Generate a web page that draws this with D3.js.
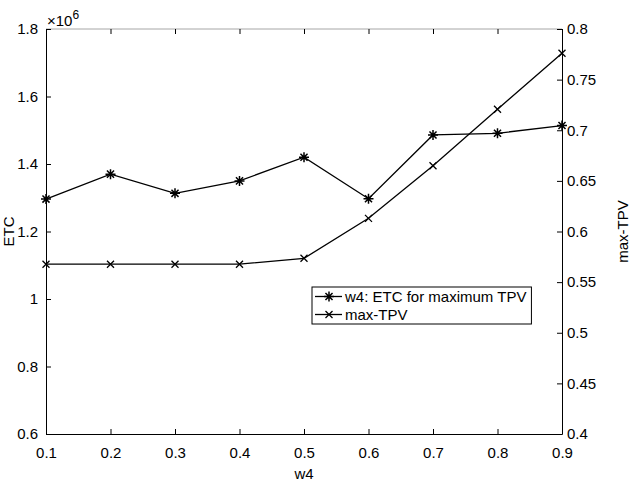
<!DOCTYPE html>
<html>
<head>
<meta charset="utf-8">
<script src="https://cdn.jsdelivr.net/npm/d3@7/dist/d3.min.js"></script>
<style>
  body { margin: 0; background: #fff; }
  svg { display: block; font-family: Arial, "Liberation Sans", Helvetica, sans-serif; }
</style>
</head>
<body>
<div id="chart"></div>
<script>
// values
var w4 = [0.1, 0.2, 0.3, 0.4, 0.5, 0.6, 0.7, 0.8, 0.9]
var etc = [1.296e6, 1.370e6, 1.313e6, 1.350e6, 1.420e6, 1.297e6, 1.486e6, 1.491e6, 1.514e6]
var maxTPV = [0.5677, 0.5677, 0.5677, 0.5677, 0.5735, 0.613, 0.665, 0.7207, 0.776]

var xTicks = [0.1, 0.2, 0.3, 0.4, 0.5, 0.6, 0.7, 0.8, 0.9]
var leftTicks = [0.6, 0.8, 1, 1.2, 1.4, 1.6, 1.8]
var rightTicks = [0.4, 0.45, 0.5, 0.55, 0.6, 0.65, 0.7, 0.75, 0.8]
var legendLabels = ['w4: ETC for maximum TPV', 'max-TPV']

var width = 637,
    height = 484,
    margins = {top: 29, right: 75, bottom: 50, left: 46},
    innerW = width - margins.left - margins.right,
    innerH = height - margins.top - margins.bottom,
    fontSize = 15,
    tickLen = 5

var svg = d3.select('#chart').append('svg')
    .attr('width', width)
    .attr('height', height)

var g = svg.append('g')
    .attr('transform', 'translate(' + margins.left + ',' + margins.top + ')')

var x = d3.scaleLinear().domain([0.1, 0.9]).range([0, innerW])
var yL = d3.scaleLinear().domain([0.6, 1.8]).range([innerH, 0])   // in units of 1e6
var yR = d3.scaleLinear().domain([0.4, 0.8]).range([innerH, 0])

// top box edge is grey in matlab's yyaxis
g.append('line')
    .attr('x1', 0).attr('x2', innerW)
    .attr('y1', 0).attr('y2', 0)
    .attr('stroke', '#a6a6a6')
    .attr('stroke-width', 1)

function styleAxis(sel) {
    sel.selectAll('.domain').attr('stroke', '#000').attr('stroke-width', 1)
    sel.selectAll('.tick line').attr('stroke', '#000')
    sel.selectAll('.tick text')
        .attr('fill', '#000')
        .style('font-size', fontSize + 'px')
}

var fmt = function(d) { return String(+d.toFixed(2)) }

// bottom axis, ticks pointing in
var xAxis = g.append('g')
    .attr('transform', 'translate(0,' + innerH + ')')
    .call(d3.axisBottom(x).tickValues(xTicks).tickFormat(fmt).tickSizeInner(-tickLen).tickSizeOuter(0).tickPadding(13))
styleAxis(xAxis)

// top ticks only (no labels)
var xTop = g.append('g')
    .call(d3.axisTop(x).tickValues(xTicks).tickFormat('').tickSizeInner(-tickLen).tickSizeOuter(0))
xTop.select('.domain').remove()
styleAxis(xTop)

var left = g.append('g')
    .call(d3.axisLeft(yL).tickValues(leftTicks).tickFormat(fmt).tickSizeInner(-tickLen).tickSizeOuter(0).tickPadding(8))
styleAxis(left)

var right = g.append('g')
    .attr('transform', 'translate(' + innerW + ',0)')
    .call(d3.axisRight(yR).tickValues(rightTicks).tickFormat(fmt).tickSizeInner(-tickLen).tickSizeOuter(0).tickPadding(5))
styleAxis(right)

// x10^6 exponent label
var expo = g.append('text')
    .attr('x', 1)
    .attr('y', -3)
    .style('font-size', fontSize + 'px')
    .attr('fill', '#000')
expo.append('tspan').text('\u00d710')
expo.append('tspan').attr('dy', -7).style('font-size', '12px').text('6')

// axis titles
svg.append('text')
    .attr('x', margins.left + innerW / 2)
    .attr('y', height - 5)
    .attr('text-anchor', 'middle')
    .style('font-size', fontSize + 'px')
    .text('w4')

svg.append('text')
    .attr('transform', 'translate(14,' + (margins.top + innerH / 2) + ') rotate(-90)')
    .attr('text-anchor', 'middle')
    .style('font-size', fontSize + 'px')
    .text('ETC')

svg.append('text')
    .attr('transform', 'translate(' + (width - 9) + ',' + (margins.top + innerH / 2) + ') rotate(-90)')
    .attr('text-anchor', 'middle')
    .style('font-size', fontSize + 'px')
    .text('max-TPV')

// lines
var etcLine = d3.line()
    .x(function(d, i) { return x(w4[i]) })
    .y(function(d) { return yL(d / 1e6) })

var tpvLine = d3.line()
    .x(function(d, i) { return x(w4[i]) })
    .y(function(d) { return yR(d) })

g.append('path')
    .datum(etc)
    .attr('d', etcLine)
    .attr('fill', 'none')
    .attr('stroke', '#000')
    .attr('stroke-width', 1.3)

g.append('path')
    .datum(maxTPV)
    .attr('d', tpvLine)
    .attr('fill', 'none')
    .attr('stroke', '#000')
    .attr('stroke-width', 1.3)

// markers
function star(sel, r) {
    var d = r * 0.707
    var p = 'M' + (-r) + ',0L' + r + ',0M0,' + (-r) + 'L0,' + r +
        'M' + (-d) + ',' + (-d) + 'L' + d + ',' + d + 'M' + (-d) + ',' + d + 'L' + d + ',' + (-d)
    sel.append('path').attr('d', p).attr('stroke', '#000').attr('stroke-width', 1.5).attr('fill', 'none')
}
function cross(sel, r) {
    var p = 'M' + (-r) + ',' + (-r) + 'L' + r + ',' + r + 'M' + (-r) + ',' + r + 'L' + r + ',' + (-r)
    sel.append('path').attr('d', p).attr('stroke', '#000').attr('stroke-width', 1.3).attr('fill', 'none')
}

g.selectAll('.etc-mk')
    .data(etc)
    .enter().append('g')
    .attr('class', 'etc-mk')
    .attr('transform', function(d, i) { return 'translate(' + x(w4[i]) + ',' + yL(d / 1e6) + ')' })
    .each(function() { star(d3.select(this), 5) })

g.selectAll('.tpv-mk')
    .data(maxTPV)
    .enter().append('g')
    .attr('class', 'tpv-mk')
    .attr('transform', function(d, i) { return 'translate(' + x(w4[i]) + ',' + yR(d) + ')' })
    .each(function() { cross(d3.select(this), 3.5) })

// legend
var legend = svg.append('g').attr('transform', 'translate(312,287)')
var box = legend.append('rect')
    .attr('fill', '#fff')
    .attr('stroke', '#000')
    .attr('stroke-width', 1)

var rows = legend.selectAll('.row')
    .data(legendLabels)
    .enter().append('g')
    .attr('class', 'row')
    .attr('transform', function(d, i) { return 'translate(0,' + (9.5 + i * 18) + ')' })

rows.append('line')
    .attr('x1', 3).attr('x2', 30)
    .attr('stroke', '#000').attr('stroke-width', 1.3)
rows.each(function(d, i) {
    var mk = d3.select(this).append('g').attr('transform', 'translate(17,0)')
    if (i == 0) star(mk, 5)
    else cross(mk, 3.5)
})
rows.append('text')
    .attr('x', 33)
    .attr('dy', '0.35em')
    .style('font-size', fontSize + 'px')
    .text(function(d) { return d })

var maxW = d3.max(rows.selectAll('text').nodes(), function(n) { return n.getComputedTextLength() })
box.attr('width', 33 + maxW + 5).attr('height', 37)
</script>
</body>
</html>
